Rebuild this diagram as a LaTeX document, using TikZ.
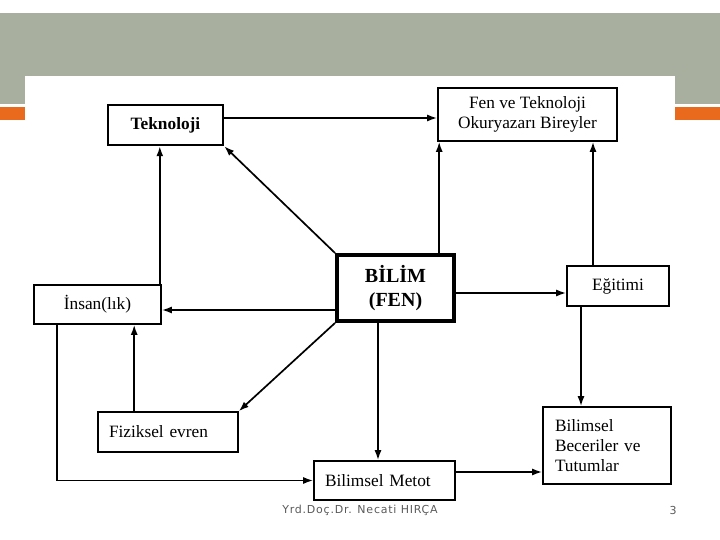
\documentclass[tikz,border=0pt]{standalone}
\usepackage{fontspec}
\setmainfont{Liberation Serif}
\newfontfamily\footfont[LetterSpace=7]{DejaVu Sans}
\usepackage{xcolor}
\definecolor{band-gray}{HTML}{A9AF9F}
\definecolor{band-orange}{HTML}{E96A1C}
\definecolor{foot-gray}{HTML}{5A5A5A}
\usepackage{tikz}
\usetikzlibrary{arrows.meta}
\tikzset{box/.style = {draw, line width=1.6pt, align=center, inner sep=0pt, font=\fontsize{17.3}{20}\selectfont}}
\tikzset{leftbox/.style = {box, align=left, inner xsep=11pt, inner ysep=0pt}}
\tikzset{main/.style = {box, line width=3.8pt, font=\fontsize{20}{24}\selectfont\bfseries}}
\tikzset{arr/.style = {line width=1.7pt, -{Latex[length=10pt,width=7pt]}}}
\tikzset{foot/.style = {font=\footfont\fontsize{11}{13}\selectfont, text=foot-gray}}

\begin{document}
\begin{tikzpicture}[x=1pt, y=-1pt]

\useasboundingbox (0,0) rectangle (720,540);
% slide frame
\fill[band-gray] (0,13) rectangle (720,104);
\fill[band-orange] (0,107) rectangle (720,120);
\fill[white] (25,76.5) rectangle (675,503);

\node[box, line width=2.5pt, font=\fontsize{17.3}{20}\selectfont\bfseries, minimum width=115pt, minimum height=40pt] (tek) at (165.5,125) {Teknoloji};
\node[box, minimum width=179pt, minimum height=53pt] (okur) at (527.5,114.5) {
  Fen ve Teknoloji\\
  Okuryazarı Bireyler
};
\node[main, minimum width=117pt, minimum height=66pt] (bilim) at (395.5,288) {BİLİM\\(FEN)};
\node[box, minimum width=102pt, minimum height=40pt] (egitim) at (618,286) {Eğitimi};
\node[box, minimum width=127pt, minimum height=39pt] (insan) at (97.5,304.5) {İnsan(lık)};
\node[leftbox, text width=118pt, minimum height=40pt] (fiz) at (168,432) {Fiziksel evren};
\node[leftbox, text width=119pt, minimum height=39pt] (metot) at (384.5,480.5) {Bilimsel Metot};
\node[leftbox, text width=104pt, inner xsep=12pt, minimum height=77pt] (beceri) at (607,445.5) {
  Bilimsel\\
  Beceriler ve\\
  Tutumlar
};

\draw[arr]  ([yshift=7pt]tek.east) -- ([yshift=7pt]tek.east -| okur.west);
\draw[arr]  ([xshift=2pt]okur.south west |- bilim.north) -- ([xshift=2pt]okur.south west);
\draw[arr]  ([xshift=-25pt]egitim.north) -- ([xshift=-25pt]egitim.north |- okur.south);
\draw[arr]  (bilim.north west) -- (tek.south east);
\draw[arr]  ([xshift=-2pt]insan.north east) -- ([xshift=-2pt]insan.north east |- tek.south);
\draw[arr]  ([yshift=-5.5pt]insan.east -| bilim.west) -- ([yshift=-5.5pt]insan.east);
\draw[arr]  (bilim.south west) -- (fiz.north east);
\draw[arr]  ([xshift=37pt]fiz.north west) -- ([xshift=37pt]fiz.north west |- insan.south);
\draw[arr]  ([xshift=24pt]insan.south west) |- (metot.west);
\draw[arr]  ([xshift=-6.5pt]metot.north |- bilim.south) -- ([xshift=-6.5pt]metot.north);
\draw[arr]  ([yshift=-5pt]bilim.east) -- ([yshift=-5pt]bilim.east -| egitim.west);
\draw[arr]  ([xshift=-37pt]egitim.south) -- ([xshift=-37pt]egitim.south |- beceri.north);
\draw[arr]  ([yshift=8.5pt]metot.east) -- ([yshift=8.5pt]metot.east -| beceri.west);

\node[foot] (yazar) at (360,510) {Yrd.Doç.Dr. Necati HIRÇA};
\node[foot] (sayfa) at (673,510) {3};

\end{tikzpicture}
\end{document}
